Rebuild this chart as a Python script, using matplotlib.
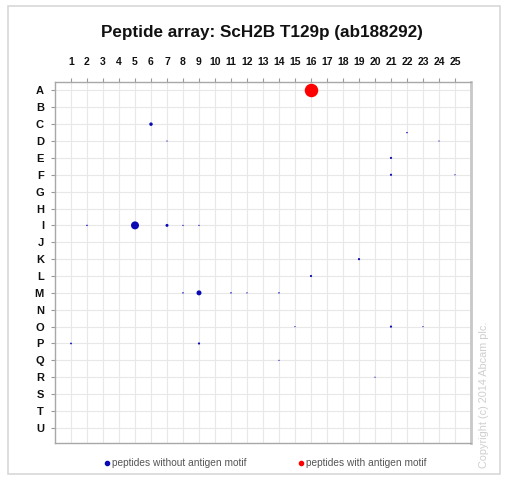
import matplotlib
matplotlib.use("Agg")
import matplotlib.pyplot as plt
from matplotlib.patches import Rectangle

plt.rcParams['font.family'] = ['Liberation Sans', 'DejaVu Sans']

columns = [str(i) for i in range(1, 26)]
rows = list("ABCDEFGHIJKLMNOPQRSTU")

# spots: column number, row position (A=0), spot diameter (px)
blue_cols = [6, 7, 22, 24, 21, 21, 25, 2, 5, 7, 8, 9, 19, 16, 8, 9, 11, 12, 14, 15, 21, 23, 1, 9, 14, 20]
blue_rows = [2, 3, 2.5, 3, 4, 5, 5, 8, 8, 8, 8, 8, 10, 11, 12, 12, 12, 12, 12, 14, 14, 14, 15, 15, 16, 17]
blue_size = [3.5, 1.2, 1.5, 1.2, 2.2, 2.2, 1.2, 1.5, 8, 3, 1.3, 1.3, 2.2, 2.2, 1.5, 5, 1.5, 1.3, 1.5, 1.2, 2.2, 1.2, 1.8, 2.2, 1.2, 1.2]

red_cols = [16]
red_rows = [0]
red_size = [13.5]

W, H = 507, 480
fig = plt.figure(figsize=(W / 100, H / 100), dpi=100)
fig.patches.append(Rectangle((8 / W, 1 - 474 / H), 492 / W, 468 / H, transform=fig.transFigure,
                             fill=False, edgecolor='#d8d8d8', linewidth=1.2))

ax = fig.add_axes([55 / W, 1 - 443 / H, (471 - 55) / W, (443 - 82) / H])

px2pt = 0.72
ax.scatter(blue_cols, blue_rows, s=[(d * px2pt) ** 2 for d in blue_size], color='#0a0ab4',
           linewidths=0, zorder=3)
ax.scatter(red_cols, red_rows, s=[(d * px2pt) ** 2 for d in red_size], color='#ff0000',
           linewidths=0, zorder=3)

ax.set_xlim(0, 26)
ax.set_ylim(20.9, -0.5)
ax.set_xticks(range(1, 26))
ax.set_xticklabels(columns)
ax.set_yticks(range(len(rows)))
ax.set_yticklabels(rows)
ax.xaxis.tick_top()
ax.tick_params(axis='both', labelsize=8, colors='#999999', length=3, width=0.8, labelcolor='#111111')
ax.tick_params(axis='x', labelsize=7.5)
for lab in ax.get_xticklabels() + ax.get_yticklabels():
    lab.set_fontweight('bold')
ax.tick_params(axis='y', pad=5)
ax.tick_params(axis='x', pad=8)
ax.grid(True, color='#e8e8e8', linewidth=0.8, zorder=0)
ax.set_axisbelow(True)
for side in ['left', 'top', 'bottom']:
    ax.spines[side].set_color('#a8a8a8')
    ax.spines[side].set_linewidth(1.0)
ax.spines['right'].set_color('#c8c8c8')
ax.spines['right'].set_linewidth(2.0)

fig.text(262 / W, 1 - 33 / H, "Peptide array: ScH2B T129p (ab188292)", ha='center', va='center',
         fontsize=12.3, fontweight='bold', color='#111111')

# legend
fig.add_artist(plt.Line2D([107 / W], [1 - 463 / H], marker='o', markersize=3, color='#0a0ab4',
                          linestyle='none', transform=fig.transFigure))
fig.text(112 / W, 1 - 463 / H, "peptides without antigen motif", ha='left', va='center',
         fontsize=7.3, color='#555555')
fig.add_artist(plt.Line2D([301 / W], [1 - 463 / H], marker='o', markersize=3, color='#ff0000',
                          linestyle='none', transform=fig.transFigure))
fig.text(306 / W, 1 - 463 / H, "peptides with antigen motif", ha='left', va='center',
         fontsize=7.3, color='#555555')

fig.text(484 / W, 1 - 395 / H, "Copyright (c) 2014 Abcam plc.", rotation=90, ha='center', va='center',
         fontsize=7.8, color='#cfcfcf')

fig.savefig("out.png", dpi=100, facecolor='white')
